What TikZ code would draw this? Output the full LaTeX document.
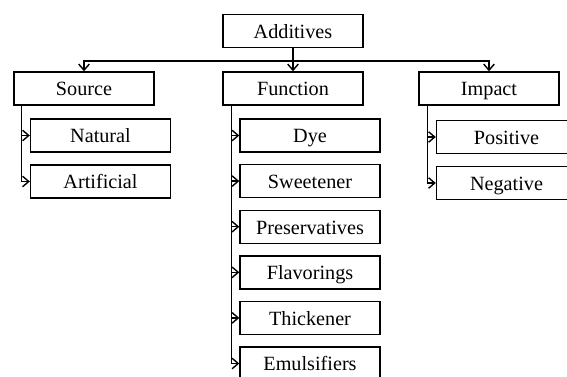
\documentclass[tikz,border=0pt]{standalone}
\usepackage{fontspec}
\setmainfont{Liberation Serif}
\usepackage{tikz}
\usetikzlibrary{arrows.meta, calc}

\tikzset{
  box/.style={draw, thick, minimum width=2.8cm, minimum height=0.66cm, inner sep=0pt,
    text height=10pt, text depth=1.5pt, font=\fontsize{11.5}{13}\selectfont},
  link/.style={thick, -{Straight Barb[length=3.5pt,width=6pt]}}
}

\begin{document}
\begin{tikzpicture}[x=0.02cm, y=-0.02cm]
  \clip (0,0) rectangle (567,376);
  % Wurzel und erste Ebene
  \node[box] (add) at (293,31) {Additives};
  \node[box] (src) at (84,88.5) {Source};
  \node[box] (fun) at (293,88.5) {Function};
  \node[box] (imp) at (489,88.5) {Impact};
  \coordinate (bus) at (293,61);
  \draw[thick] (add.south) -- (bus);
  \draw[link] (bus) -- (fun.north);
  \draw[link] (bus) -| (src.north);
  \draw[link] (bus) -| (imp.north);
  % Source
  \foreach \n/\y/\t in {nat/135.5/Natural, art/181.5/Artificial}{
    \node[box] (\n) at (100.5,\y) {\t};
    \draw[link] ($(src.south west)+(8,0)$) |- (\n.west);
  }
  % Function
  \foreach \n/\y/\t in {dye/135.5/Dye, swe/181.1/Sweetener, pre/226.7/Preservatives,
      fla/272.3/Flavorings, thi/317.9/Thickener, emu/363.5/Emulsifiers}{
    \node[box] (\n) at (310,\y) {\t};
    \draw[link] ($(fun.south west)+(9,0)$) |- (\n.west);
  }
  % Impact
  \foreach \n/\y/\t in {pos/137/Positive, neg/183/Negative}{
    \node[box] (\n) at (506.5,\y) {\t};
    \draw[link] ($(imp.south west)+(9,0)$) |- (\n.west);
  }
\end{tikzpicture}
\end{document}
